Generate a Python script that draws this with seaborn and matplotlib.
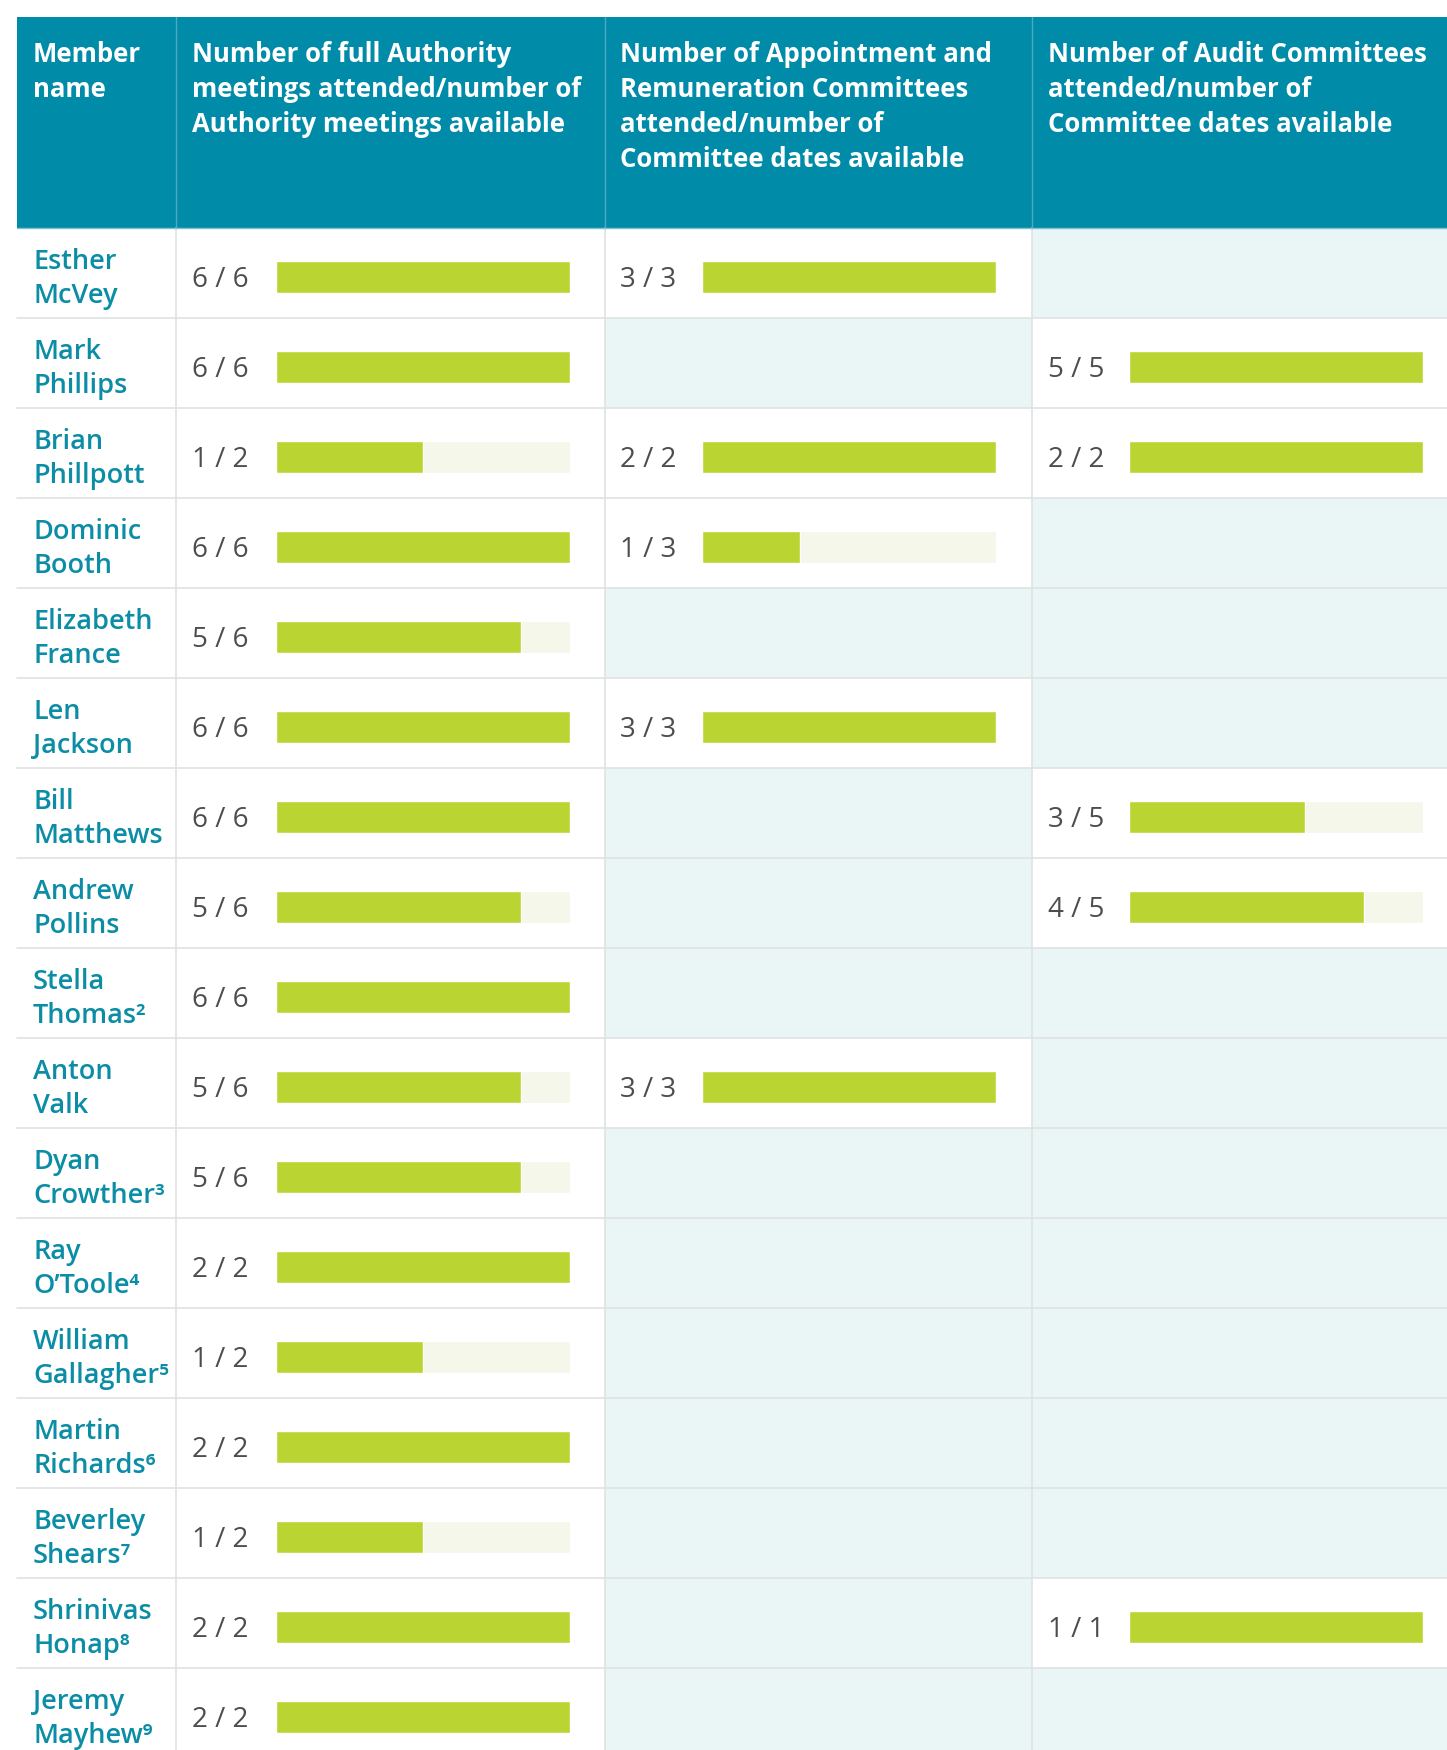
import matplotlib
matplotlib.use("Agg")
import matplotlib.pyplot as plt
import pandas as pd
import seaborn as sns
from matplotlib.patches import Rectangle

members = ["Esther\nMcVey", "Mark\nPhillips", "Brian\nPhillpott", "Dominic\nBooth",
           "Elizabeth\nFrance", "Len\nJackson", "Bill\nMatthews", "Andrew\nPollins",
           "Stella\nThomas²", "Anton\nValk", "Dyan\nCrowther³", "Ray\nO’Toole⁴",
           "William\nGallagher⁵", "Martin\nRichards⁶", "Beverley\nShears⁷",
           "Shrinivas\nHonap⁸", "Jeremy\nMayhew⁹"]

authority_attended = [6, 6, 1, 6, 5, 6, 6, 5, 6, 5, 5, 2, 1, 2, 1, 2, 2]
authority_available = [6, 6, 2, 6, 6, 6, 6, 6, 6, 6, 6, 2, 2, 2, 2, 2, 2]

appointment_attended = [3, None, 2, 1, None, 3, None, None, None, 3, None, None, None, None, None, None, None]
appointment_available = [3, None, 2, 3, None, 3, None, None, None, 3, None, None, None, None, None, None, None]

audit_attended = [None, 5, 2, None, None, None, 3, 4, None, None, None, None, None, None, None, 1, None]
audit_available = [None, 5, 2, None, None, None, 5, 5, None, None, None, None, None, None, None, 1, None]

headers = [
    ["Member", "name"],
    ["Number of full Authority", "meetings attended/number of", "Authority meetings available"],
    ["Number of Appointment and", "Remuneration Committees", "attended/number of", "Committee dates available"],
    ["Number of Audit Committees", "attended/number of", "Committee dates available"],
]

# ---- colours ----
TEAL = "#008BA8"
NAME_COL = "#0B8DA6"
GREEN = "#BAD531"
TRACK = "#F5F7EA"
EMPTY = "#EAF5F5"
GRID = "#E0E2E2"
NUM_COL = "#4D4D4D"

# ---- layout (pixels) ----
W, H = 1447, 1750
LEFT, TOP, HEAD_BOTTOM, ROW_H = 17, 17, 228, 90
COL_EDGES = [17, 176, 605, 1032, W]
TEXT_X = [33, 192, 620, 1048]
BAR_LEFT = [276, 702, 1129]
BAR_W = 294

sns.set_theme(style="white")
plt.rcParams["font.family"] = ["Open Sans", "DejaVu Sans"]

fig = plt.figure(figsize=(W / 100, H / 100), dpi=100)
bg = fig.add_axes([0, 0, 1, 1])
bg.set_xlim(0, W)
bg.set_ylim(H, 0)
bg.axis("off")

n = len(members)
columns = [
    (authority_attended, authority_available),
    (appointment_attended, appointment_available),
    (audit_attended, audit_available),
]

# header block
bg.add_patch(Rectangle((LEFT, TOP), W - LEFT, HEAD_BOTTOM - TOP, color=TEAL, lw=0))
for x in COL_EDGES[1:-1]:
    bg.plot([x, x], [TOP, HEAD_BOTTOM], color="#4FA9BF", lw=1.0)
bg.plot([LEFT, W], [HEAD_BOTTOM, HEAD_BOTTOM], color="#7CC3D2", lw=1.0)
for ci, lines in enumerate(headers):
    for li, line in enumerate(lines):
        bg.text(TEXT_X[ci], 62 + 35 * li, line, color="white", fontsize=18.5,
                fontweight="bold", va="baseline", ha="left")

# body cells
for r in range(n):
    top = HEAD_BOTTOM + r * ROW_H
    for ci, (att, avail) in enumerate(columns):
        if avail[r] is None:
            x0, x1 = COL_EDGES[ci + 1], COL_EDGES[ci + 2]
            bg.add_patch(Rectangle((x0, top), x1 - x0, ROW_H, color=EMPTY, lw=0, zorder=0))
        else:
            bg.text(TEXT_X[ci + 1], top + 59, f"{att[r]} / {avail[r]}", color=NUM_COL,
                    fontsize=20, va="baseline", ha="left")
    first, last = members[r].split("\n")
    bg.text(TEXT_X[0], top + 41, first, color=NAME_COL, fontsize=19.5,
            fontweight="semibold", va="baseline", ha="left")
    bg.text(TEXT_X[0], top + 75, last, color=NAME_COL, fontsize=19.5,
            fontweight="semibold", va="baseline", ha="left")
    bg.plot([LEFT, W], [top + ROW_H, top + ROW_H], color=GRID, lw=1.2, zorder=1)

for x in COL_EDGES[1:-1]:
    bg.plot([x, x], [HEAD_BOTTOM, H], color=GRID, lw=1.2, zorder=1)

# bars: one seaborn axes per column, rows share the table's row grid
for ci, (att, avail) in enumerate(columns):
    df = pd.DataFrame({"member": members, "attended": att, "available": avail}).dropna()
    df["share"] = df["attended"] / df["available"]
    df["full"] = 1.0
    body_top = HEAD_BOTTOM + 4
    ax = fig.add_axes([BAR_LEFT[ci] / W, 1 - (body_top + n * ROW_H) / H,
                       BAR_W / W, n * ROW_H / H])
    ax.patch.set_alpha(0)
    sns.barplot(data=df, x="full", y="member", order=members, color=TRACK,
                width=0.36, errorbar=None, saturation=1, ax=ax)
    sns.barplot(data=df, x="share", y="member", order=members, color=GREEN,
                width=0.36, errorbar=None, saturation=1, ax=ax)
    ax.set_xlim(0, 1)
    ax.set_ylim(n - 0.5, -0.5)
    ax.axis("off")

fig.savefig("out.png", dpi=100)
